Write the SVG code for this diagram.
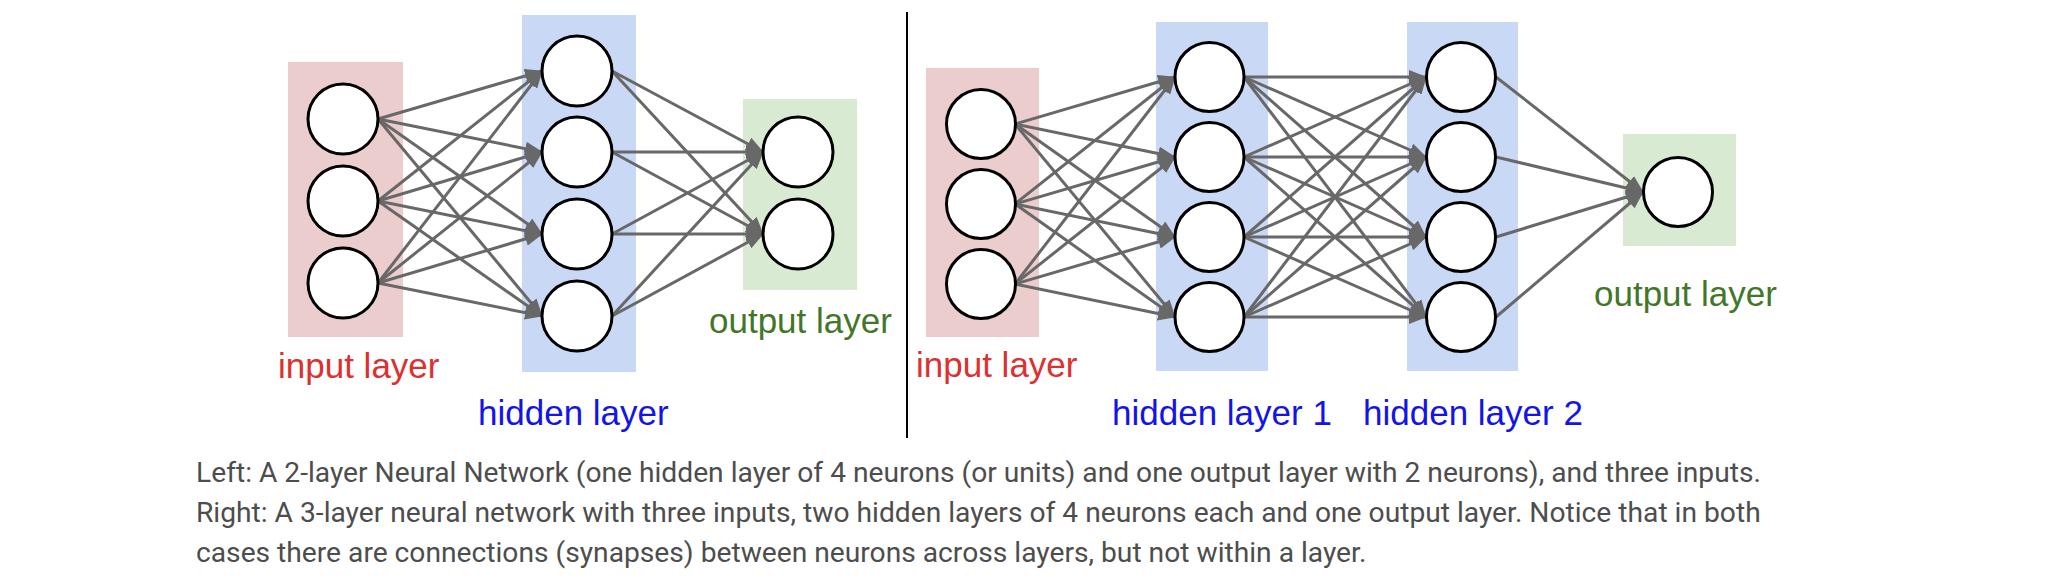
<svg xmlns="http://www.w3.org/2000/svg" width="2048" height="582" viewBox="0 0 2048 582">
<defs>
<style>
.bg{fill:#ffffff}
.in{fill:#ebcdcd}
.hid{fill:#c9d9f5}
.out{fill:#d9ead3}
.n{fill:#ffffff;stroke:#000000;stroke-width:3}
.c line{stroke:#686868;stroke-width:3;marker-end:url(#ah)}
.lbl{font-family:"Liberation Sans",Arial,sans-serif;font-size:35px}
.red{fill:#dd3030}
.blue{fill:#1414e6}
.green{fill:#437628}
.cap{font-family:Roboto,"Liberation Sans",sans-serif;font-size:28.2px;fill:#4d4d4d}
</style>
<marker id="ah" markerUnits="userSpaceOnUse" markerWidth="18" markerHeight="14" viewBox="0 0 18 14" refX="17" refY="7" orient="auto">
<path d="M0,0 L18,7 L0,14 z" fill="#686868"/>
</marker>
</defs>
<rect class="bg" x="0" y="0" width="2048" height="582"/>

<!-- layer boxes -->
<g id="L-input-box"><rect class="in" x="288" y="62" width="115" height="275"/></g>
<g id="L-hidden-box"><rect class="hid" x="522" y="15" width="114" height="357"/></g>
<g id="L-output-box"><rect class="out" x="743" y="99" width="114" height="191"/></g>
<g id="R-input-box"><rect class="in" x="926" y="68" width="113" height="269"/></g>
<g id="R-hidden1-box"><rect class="hid" x="1156" y="22" width="112" height="349"/></g>
<g id="R-hidden2-box"><rect class="hid" x="1407" y="22" width="111" height="349"/></g>
<g id="R-output-box"><rect class="out" x="1623" y="134" width="113" height="112"/></g>

<!-- divider -->
<g id="divider"><line x1="907" y1="12" x2="907" y2="438" stroke="#000" stroke-width="2"/></g>

<!-- connectors -->
<g id="connectors" class="c">
<!-- left: input -> hidden -->
<line x1="378" y1="119" x2="542" y2="71"/>
<line x1="378" y1="119" x2="542" y2="152"/>
<line x1="378" y1="119" x2="542" y2="234"/>
<line x1="378" y1="119" x2="542" y2="316"/>
<line x1="378" y1="201" x2="542" y2="71"/>
<line x1="378" y1="201" x2="542" y2="152"/>
<line x1="378" y1="201" x2="542" y2="234"/>
<line x1="378" y1="201" x2="542" y2="316"/>
<line x1="378" y1="283" x2="542" y2="71"/>
<line x1="378" y1="283" x2="542" y2="152"/>
<line x1="378" y1="283" x2="542" y2="234"/>
<line x1="378" y1="283" x2="542" y2="316"/>
<!-- left: hidden -> output -->
<line x1="612" y1="71" x2="763" y2="152"/>
<line x1="612" y1="71" x2="763" y2="234"/>
<line x1="612" y1="152" x2="763" y2="152"/>
<line x1="612" y1="152" x2="763" y2="234"/>
<line x1="612" y1="234" x2="763" y2="152"/>
<line x1="612" y1="234" x2="763" y2="234"/>
<line x1="612" y1="316" x2="763" y2="152"/>
<line x1="612" y1="316" x2="763" y2="234"/>
<!-- right: input -> hidden1 -->
<line x1="1015" y1="124" x2="1175" y2="77"/>
<line x1="1015" y1="124" x2="1175" y2="157"/>
<line x1="1015" y1="124" x2="1175" y2="237"/>
<line x1="1015" y1="124" x2="1175" y2="317"/>
<line x1="1015" y1="204" x2="1175" y2="77"/>
<line x1="1015" y1="204" x2="1175" y2="157"/>
<line x1="1015" y1="204" x2="1175" y2="237"/>
<line x1="1015" y1="204" x2="1175" y2="317"/>
<line x1="1015" y1="284" x2="1175" y2="77"/>
<line x1="1015" y1="284" x2="1175" y2="157"/>
<line x1="1015" y1="284" x2="1175" y2="237"/>
<line x1="1015" y1="284" x2="1175" y2="317"/>
<!-- right: hidden1 -> hidden2 -->
<line x1="1244" y1="77" x2="1426" y2="77"/>
<line x1="1244" y1="77" x2="1426" y2="157"/>
<line x1="1244" y1="77" x2="1426" y2="237"/>
<line x1="1244" y1="77" x2="1426" y2="317"/>
<line x1="1244" y1="157" x2="1426" y2="77"/>
<line x1="1244" y1="157" x2="1426" y2="157"/>
<line x1="1244" y1="157" x2="1426" y2="237"/>
<line x1="1244" y1="157" x2="1426" y2="317"/>
<line x1="1244" y1="237" x2="1426" y2="77"/>
<line x1="1244" y1="237" x2="1426" y2="157"/>
<line x1="1244" y1="237" x2="1426" y2="237"/>
<line x1="1244" y1="237" x2="1426" y2="317"/>
<line x1="1244" y1="317" x2="1426" y2="77"/>
<line x1="1244" y1="317" x2="1426" y2="157"/>
<line x1="1244" y1="317" x2="1426" y2="237"/>
<line x1="1244" y1="317" x2="1426" y2="317"/>
<!-- right: hidden2 -> output -->
<line x1="1496" y1="77" x2="1643" y2="192"/>
<line x1="1496" y1="157" x2="1643" y2="192"/>
<line x1="1496" y1="237" x2="1643" y2="192"/>
<line x1="1496" y1="317" x2="1643" y2="192"/>
</g>

<!-- left neurons -->
<g id="L-in-1"><circle class="n" cx="343" cy="119" r="35"/></g>
<g id="L-in-2"><circle class="n" cx="343" cy="201" r="35"/></g>
<g id="L-in-3"><circle class="n" cx="343" cy="283" r="35"/></g>
<g id="L-h-1"><circle class="n" cx="577" cy="71" r="35"/></g>
<g id="L-h-2"><circle class="n" cx="577" cy="152" r="35"/></g>
<g id="L-h-3"><circle class="n" cx="577" cy="234" r="35"/></g>
<g id="L-h-4"><circle class="n" cx="577" cy="316" r="35"/></g>
<g id="L-out-1"><circle class="n" cx="798" cy="152" r="35"/></g>
<g id="L-out-2"><circle class="n" cx="798" cy="234" r="35"/></g>

<!-- right neurons -->
<g id="R-in-1"><circle class="n" cx="981" cy="124" r="34.5"/></g>
<g id="R-in-2"><circle class="n" cx="981" cy="204" r="34.5"/></g>
<g id="R-in-3"><circle class="n" cx="981" cy="284" r="34.5"/></g>
<g id="R-h1-1"><circle class="n" cx="1209.5" cy="77" r="34.5"/></g>
<g id="R-h1-2"><circle class="n" cx="1209.5" cy="157" r="34.5"/></g>
<g id="R-h1-3"><circle class="n" cx="1209.5" cy="237" r="34.5"/></g>
<g id="R-h1-4"><circle class="n" cx="1209.5" cy="317" r="34.5"/></g>
<g id="R-h2-1"><circle class="n" cx="1461" cy="77" r="34.5"/></g>
<g id="R-h2-2"><circle class="n" cx="1461" cy="157" r="34.5"/></g>
<g id="R-h2-3"><circle class="n" cx="1461" cy="237" r="34.5"/></g>
<g id="R-h2-4"><circle class="n" cx="1461" cy="317" r="34.5"/></g>
<g id="R-out-1"><circle class="n" cx="1678" cy="192" r="34.5"/></g>

<!-- labels -->
<g id="labels" class="lbl">
<text class="red" x="278" y="378">input layer</text>
<text class="blue" x="478" y="425">hidden layer</text>
<text class="green" x="709" y="333">output layer</text>
<text class="red" x="916" y="377">input layer</text>
<text class="blue" x="1112" y="425">hidden layer 1</text>
<text class="blue" x="1363" y="425">hidden layer 2</text>
<text class="green" x="1594" y="306">output layer</text>
</g>

<!-- caption -->
<g id="caption" class="cap">
<text x="196" y="482">Left: A 2-layer Neural Network (one hidden layer of 4 neurons (or units) and one output layer with 2 neurons), and three inputs.</text>
<text x="196" y="522">Right: A 3-layer neural network with three inputs, two hidden layers of 4 neurons each and one output layer. Notice that in both</text>
<text x="196" y="562">cases there are connections (synapses) between neurons across layers, but not within a layer.</text>
</g>
</svg>
